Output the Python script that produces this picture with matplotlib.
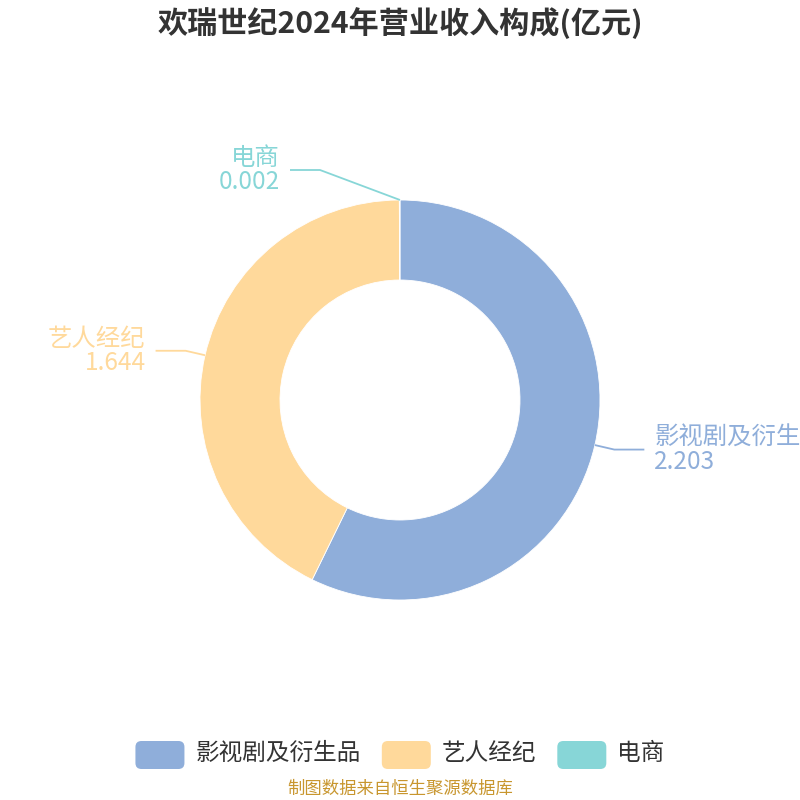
import matplotlib
matplotlib.use('Agg')
import matplotlib.pyplot as plt
from matplotlib.patches import FancyBboxPatch
import numpy as np

plt.rcParams['font.family'] = ['Noto Sans CJK SC', 'DejaVu Sans']

title = '欢瑞世纪2024年营业收入构成(亿元)'
categories = ['影视剧及衍生品', '艺人经纪', '电商']
label_names = ['影视剧及衍生', '艺人经纪', '电商']
values = [2.203, 1.644, 0.002]
value_labels = ['2.203', '1.644', '0.002']
colors = ['#8FAEDA', '#FFD99B', '#87D6D7']
source = '制图数据来自恒生聚源数据库'

W = H = 800
fig = plt.figure(figsize=(8, 8), dpi=100)
ax = fig.add_axes([0, 0, 1, 1])
cx, cy = 400, 400
wedges, _ = ax.pie(values, colors=colors, startangle=90, counterclock=False,
                   radius=200, center=(cx, H - cy),
                   wedgeprops=dict(width=80, edgecolor='white', linewidth=0.6))
ax.set_xlim(0, W)
ax.set_ylim(0, H)
ax.set_aspect('equal')
ax.axis('off')

def Y(py):
    return H - py

layout = [
    dict(elbow=None, side='right'),
    dict(elbow=None, side='left'),
    dict(elbow=(320, 170), side='left'),
]
for w, lay, name, vl, col in zip(wedges, layout, label_names, value_labels, colors):
    th = np.deg2rad((w.theta1 + w.theta2) / 2)
    if w.theta2 - w.theta1 < 1:
        th = np.deg2rad(w.theta1)
    p0 = (cx + 200 * np.cos(th), H - cy + 200 * np.sin(th))
    if lay['elbow'] is None:
        p1 = (cx + 220 * np.cos(th), H - cy + 220 * np.sin(th))
    else:
        p1 = (lay['elbow'][0], Y(lay['elbow'][1]))
    if lay['side'] == 'right':
        p2 = (p1[0] + 30, p1[1])
        tx, ha = p2[0] + 10, 'left'
    else:
        p2 = (p1[0] - 30, p1[1])
        tx, ha = p2[0] - 10, 'right'
    ax.plot([p0[0], p1[0], p2[0]], [p0[1], p1[1], p2[1]], color=col, lw=1.3,
            solid_capstyle='butt')
    ax.text(tx, p2[1] + 12, name, ha=ha, va='center', fontsize=17.6, color=col)
    ax.text(tx, p2[1] - 12, vl, ha=ha, va='center', fontsize=17.6, color=col)

ax.text(400, Y(23), title, ha='center', va='center', fontsize=21.7,
        fontweight='bold', color='#333333')

# legend
fig.canvas.draw()
r = fig.canvas.get_renderer()
box_w, box_h, gap1, gap2 = 49, 28, 11, 21
texts = []
widths = []
for c in categories:
    t = ax.text(0, Y(753), c, ha='left', va='center', fontsize=17, color='#333333')
    widths.append(t.get_window_extent(r).width)
    texts.append(t)
total = sum(box_w + gap1 + tw for tw in widths) + gap2 * (len(categories) - 1)
x = 400 - total / 2
for t, tw, col in zip(texts, widths, colors):
    ax.add_patch(FancyBboxPatch((x, Y(755) - box_h / 2), box_w, box_h,
                                boxstyle='round,pad=0,rounding_size=6',
                                fc=col, ec='none'))
    t.set_x(x + box_w + gap1)
    x += box_w + gap1 + tw + gap2

ax.text(400, Y(789), source, ha='center', va='center', fontsize=12.5, color='#C8962E')

fig.savefig('out.png', dpi=100)
